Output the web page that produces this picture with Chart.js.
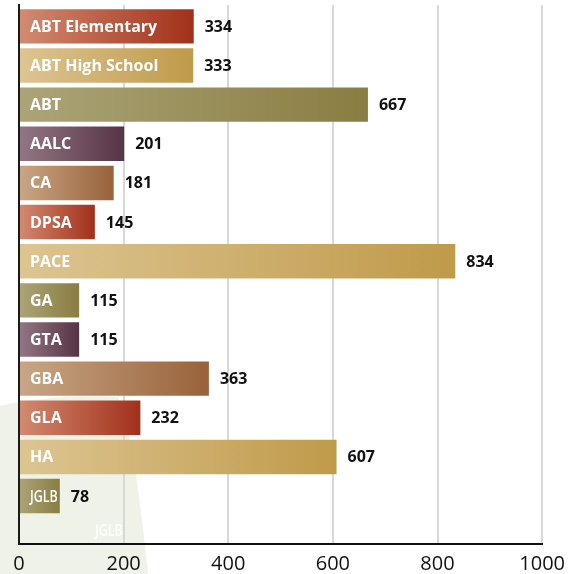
<!DOCTYPE html>
<html>
<head>
<meta charset="utf-8">
<title>Schools bar chart</title>
<script src="https://cdn.jsdelivr.net/npm/chart.js"></script>
<style>
  html, body { margin: 0; padding: 0; background: #ffffff; }
  #wrap { width: 573px; height: 574px; position: relative; }
</style>
</head>
<body>
<div id="wrap"><canvas id="chart"></canvas></div>
<script>
// data
const schools = ['ABT Elementary', 'ABT High School', 'ABT', 'AALC', 'CA', 'DPSA', 'PACE',
                 'GA', 'GTA', 'GBA', 'GLA', 'HA', 'JGLB'];
const values = [334, 333, 667, 201, 181, 145, 834, 115, 115, 363, 232, 607, 78];
const xTicks = [0, 200, 400, 600, 800, 1000];

// palette cycles red, gold, olive, purple, brown
const lightColors = ['#d28b71', '#ddc592', '#aca478', '#937785', '#c9a686'];
const darkColors  = ['#a2301a', '#bf9a4a', '#897d41', '#563345', '#98623a'];

const condensed = new Set(['JGLB']);

function barFill(ctx) {
  const chart = ctx.chart;
  const i = ctx.dataIndex;
  const k = i % lightColors.length;
  const xs = chart.scales.x;
  if (!xs || !chart.chartArea) return darkColors[k];
  const x0 = xs.getPixelForValue(0);
  const x1 = xs.getPixelForValue(values[i]);
  const g = chart.ctx.createLinearGradient(x0, 0, x1, 0);
  g.addColorStop(0, lightColors[k]);
  g.addColorStop(1, darkColors[k]);
  return g;
}

// faint green shape behind the lower left corner
const backdrop = {
  id: 'backdrop',
  beforeDraw(chart) {
    const c = chart.ctx;
    c.save();
    c.fillStyle = '#eff2e7';
    c.beginPath();
    c.moveTo(0, 406);
    c.quadraticCurveTo(50, 394, 118, 397);
    c.bezierCurveTo(132, 430, 140, 500, 148, 574);
    c.lineTo(0, 574);
    c.closePath();
    c.fill();
    c.restore();
  },
  afterDraw(chart) {
    const c = chart.ctx;
    c.save();
    c.fillStyle = 'rgba(255,255,255,0.9)';
    c.textBaseline = 'middle';
    c.translate(95, 531);
    c.scale(0.78, 1);
    c.font = '600 16px "Open Sans", sans-serif';
    c.fillText('JGLB', 0, 0);
    c.restore();
  }
};

// labels inside the bars and values after them
const barLabels = {
  id: 'barLabels',
  afterDatasetsDraw(chart) {
    const c = chart.ctx;
    const meta = chart.getDatasetMeta(0);
    c.save();
    c.textBaseline = 'middle';
    meta.data.forEach((bar, i) => {
      const left = bar.base;
      c.fillStyle = '#ffffff';
      if (condensed.has(schools[i])) {
        c.save();
        c.translate(left + 10, bar.y + 1);
        c.scale(0.78, 1);
        c.font = '600 16px "Open Sans", sans-serif';
        c.fillText(schools[i], 0, 0);
        c.restore();
      } else {
        c.font = 'bold 16px "Open Sans", sans-serif';
        c.fillText(schools[i], left + 10, bar.y + 1);
      }
      c.fillStyle = '#111111';
      c.font = 'bold 16px "Open Sans", sans-serif';
      c.fillText(String(values[i]), bar.x + 11, bar.y + 1);
    });
    c.restore();
  }
};

new Chart(document.getElementById('chart'), {
  type: 'bar',
  data: {
    datasets: [{
      data: values.map((v, i) => ({ x: v, y: i })),
      backgroundColor: barFill,
      borderWidth: 0,
      barPercentage: 0.88,
      categoryPercentage: 1
    }]
  },
  options: {
    indexAxis: 'y',
    responsive: true,
    maintainAspectRatio: false,
    animation: false,
    layout: { padding: { top: 5, left: 19, right: 27, bottom: -10 } },
    plugins: {
      legend: { display: false },
      tooltip: { enabled: false }
    },
    scales: {
      x: {
        type: 'linear',
        min: 0,
        max: 1000,
        afterBuildTicks(scale) { scale.ticks = xTicks.map(v => ({ value: v })); },
        grid: { color: '#d8d8d8', lineWidth: 2, drawTicks: false },
        border: { display: true, color: '#111111', width: 2 },
        ticks: {
          color: '#111111',
          padding: 8,
          callback: v => String(v),
          font: { family: '"Open Sans", sans-serif', size: 20 }
        }
      },
      y: {
        type: 'linear',
        reverse: true,
        offset: false,
        min: -0.546,
        max: 13.225,
        afterBuildTicks(scale) { scale.ticks = schools.map((s, i) => ({ value: i, label: s })); },
        grid: { display: false, drawTicks: false, offset: false },
        border: { display: true, color: '#1a1a1a', width: 2 },
        ticks: { display: false }
      }
    }
  },
  plugins: [backdrop, barLabels]
});
</script>
</body>
</html>
